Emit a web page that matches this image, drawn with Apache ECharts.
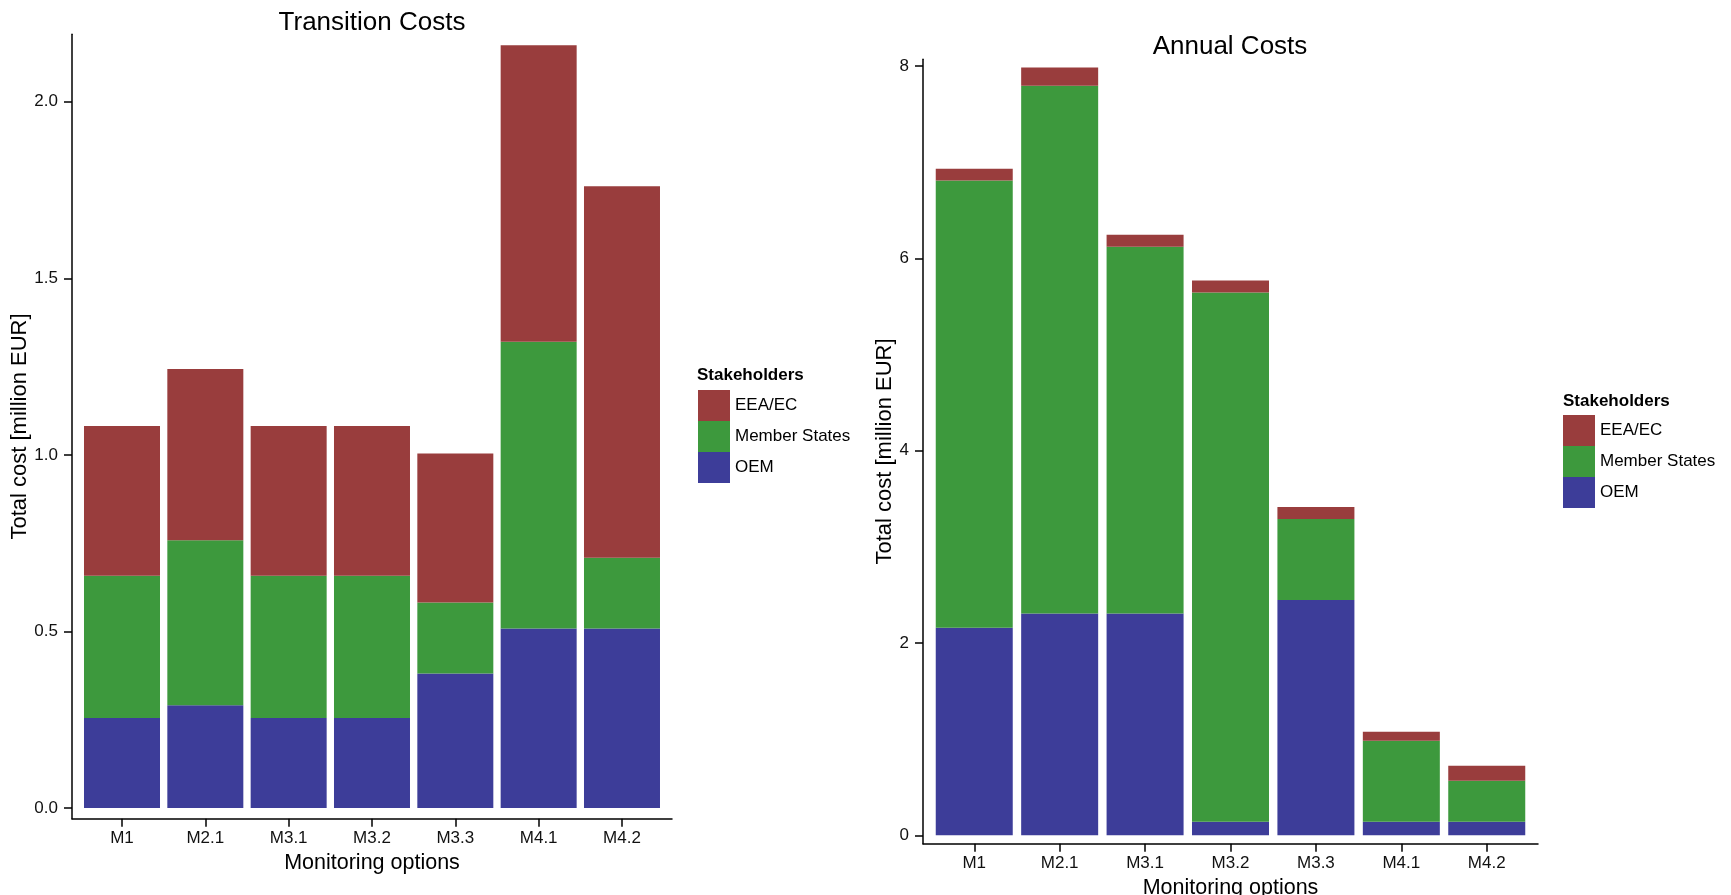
<!DOCTYPE html>
<html>
<head>
<meta charset="utf-8">
<script src="https://cdn.jsdelivr.net/npm/echarts@6/dist/echarts.min.js"></script>
<style>
  html, body { margin: 0; padding: 0; background: #fff; }
  #chart { width: 1731px; height: 895px; }
</style>
</head>
<body>
<div id="chart"></div>
<script>
'use strict';

var categories = ['M1', 'M2.1', 'M3.1', 'M3.2', 'M3.3', 'M4.1', 'M4.2'];
var stakeholders = ['EEA/EC', 'Member States', 'OEM'];

// million EUR
var transitionOEM = [0.255, 0.291, 0.255, 0.255, 0.381, 0.508, 0.508];
var transitionMS  = [0.403, 0.467, 0.403, 0.403, 0.201, 0.812, 0.201];
var transitionEEA = [0.424, 0.485, 0.424, 0.424, 0.422, 0.840, 1.052];

var annualOEM = [2.158, 2.306, 2.306, 0.142, 2.448, 0.142, 0.142];
var annualMS  = [4.650, 5.489, 3.815, 5.501, 0.842, 0.842, 0.426];
var annualEEA = [0.124, 0.188, 0.125, 0.125, 0.125, 0.093, 0.156];

var transitionTicks = [0, 0.5, 1, 1.5, 2];
var annualTicks = [0, 2, 4, 6, 8];

var colors = { 'EEA/EC': '#993d3d', 'Member States': '#3d993d', 'OEM': '#3d3d99' };
var font = 'Liberation Sans, Arial, Helvetica, sans-serif';
var catPos = categories.map(function (c, i) { return i + 1; });

// the drawn axes: value x axis so the panel gets ggplot's 0.6 padding on each side
function makeX(idx) {
    return {
        type: 'value', gridIndex: idx, min: 0.4, max: 7.6,
        name: 'Monitoring options', nameLocation: 'middle', nameGap: 30,
        nameTextStyle: { fontFamily: font, fontSize: 21.5, color: '#000' },
        axisLine: { show: true, onZero: false, lineStyle: { color: '#000', width: 1.5 } },
        axisTick: { show: true, length: 8, customValues: catPos, lineStyle: { color: '#000', width: 1.5 } },
        axisLabel: {
            customValues: catPos, margin: 11, fontFamily: font, fontSize: 17, color: '#111',
            formatter: function (v) { return categories[v - 1]; }
        },
        splitLine: { show: false }
    };
}

function makeY(idx, min, max, ticks, digits, gap) {
    return {
        type: 'value', gridIndex: idx, min: min, max: max,
        name: 'Total cost [million EUR]', nameLocation: 'middle', nameRotate: 90, nameGap: gap,
        nameTextStyle: { fontFamily: font, fontSize: 22, color: '#000' },
        axisLine: { show: true, onZero: false, lineStyle: { color: '#000', width: 1.5 } },
        axisTick: { show: true, length: 8, customValues: ticks, lineStyle: { color: '#000', width: 1.5 } },
        axisLabel: {
            customValues: ticks, margin: 14, fontFamily: font, fontSize: 17, color: '#111',
            formatter: function (v) { return v.toFixed(digits); }
        },
        splitLine: { show: false }
    };
}

// hidden axes that carry the stacked bars
function hiddenX(idx) {
    return { type: 'category', gridIndex: idx, data: categories, show: false };
}

function hiddenY(idx, min, max) {
    return { type: 'value', gridIndex: idx, min: min, max: max, show: false, splitLine: { show: false } };
}

function bar(name, arr, idx, width) {
    return {
        name: name, type: 'bar', stack: 'cost' + idx,
        xAxisIndex: idx, yAxisIndex: idx, barWidth: width,
        itemStyle: { color: colors[name] },
        emphasis: { disabled: true },
        data: arr
    };
}

function legendAt(left, top) {
    return {
        orient: 'vertical', left: left, top: top, padding: 0,
        itemWidth: 32, itemHeight: 31, itemGap: 0, icon: 'rect',
        selectedMode: false,
        data: stakeholders,
        textStyle: { fontFamily: font, fontSize: 17, color: '#000' }
    };
}

function panel(left, top, width, height) {
    return { left: left, top: top, width: width, height: height, outerBoundsMode: 'none', containLabel: false };
}

var option = {
    animation: false,
    backgroundColor: '#fff',
    title: [
        { text: 'Transition Costs', left: 372, top: 10, textAlign: 'center', padding: 0,
          textStyle: { fontFamily: font, fontSize: 26, fontWeight: 'normal', color: '#000' } },
        { text: 'Annual Costs', left: 1230, top: 34, textAlign: 'center', padding: 0,
          textStyle: { fontFamily: font, fontSize: 26, fontWeight: 'normal', color: '#000' } },
        { text: 'Stakeholders', left: 697, top: 367, padding: 0,
          textStyle: { fontFamily: font, fontSize: 17, fontWeight: 'bold', color: '#000' } },
        { text: 'Stakeholders', left: 1563, top: 393, padding: 0,
          textStyle: { fontFamily: font, fontSize: 17, fontWeight: 'bold', color: '#000' } }
    ],
    legend: [legendAt(698, 390), legendAt(1563, 415)],
    grid: [
        panel(72, 34.3, 600, 784.4),
        panel(923, 59.3, 615, 784.4),
        panel(80.33, 34.3, 583.33, 784.4),
        panel(931.54, 59.3, 597.92, 784.4)
    ],
    xAxis: [makeX(0), makeX(1), hiddenX(2), hiddenX(3)],
    yAxis: [
        makeY(0, -0.0303, 2.191, transitionTicks, 1, 32),
        makeY(1, -0.087, 8.069, annualTicks, 0, 21),
        hiddenY(2, -0.0303, 2.191),
        hiddenY(3, -0.087, 8.069)
    ],
    series: [
        bar('OEM', transitionOEM, 2, 76),
        bar('Member States', transitionMS, 2, 76),
        bar('EEA/EC', transitionEEA, 2, 76),
        bar('OEM', annualOEM, 3, 77),
        bar('Member States', annualMS, 3, 77),
        bar('EEA/EC', annualEEA, 3, 77)
    ]
};

var myChart = echarts.init(document.getElementById('chart'));
myChart.setOption(option);
</script>
</body>
</html>
